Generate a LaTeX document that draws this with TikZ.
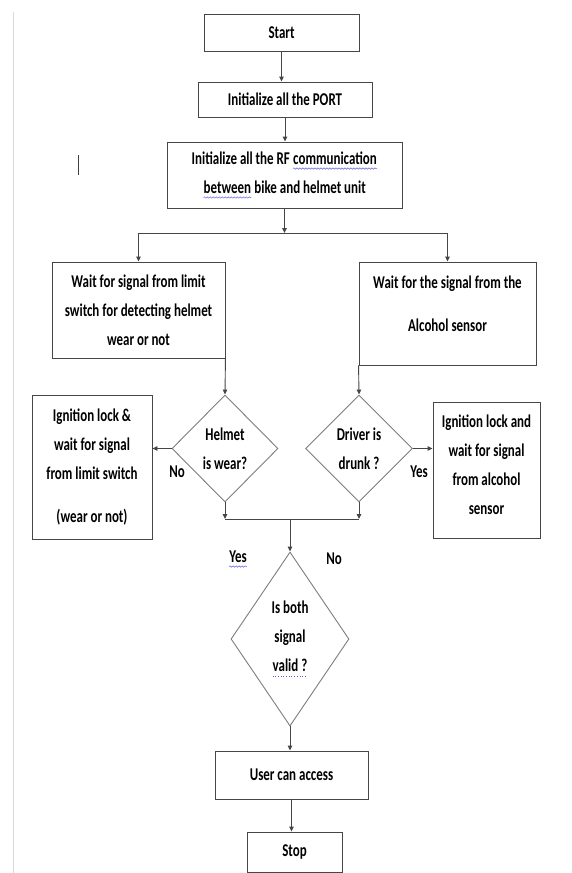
\documentclass[tikz,border=0pt]{standalone}
\usepackage{fontspec}
\setmainfont{Carlito}[FakeStretch=0.72]
\usetikzlibrary{positioning,arrows.meta,shapes.geometric,decorations.pathmorphing}
\definecolor{boxgray}{RGB}{70,70,70}
\definecolor{diagray}{RGB}{125,125,125}
\definecolor{spellblue}{RGB}{95,95,225}

\newcommand{\chartfont}{\bfseries\fontsize{18}{29}\selectfont}
\tikzset{
  box/.style={draw=boxgray, line width=0.9pt, align=center, inner sep=0pt, font=\chartfont},
  decision/.style={diamond, draw=diagray, line width=0.9pt, align=center, inner sep=0pt, font=\chartfont},
  flow/.style={draw=boxgray, line width=0.9pt, -{Triangle[length=5pt,width=4.5pt]}},
  lbl/.style={inner sep=0pt, font=\chartfont},
  spell/.style={draw=spellblue, line width=0.5pt, decorate, decoration={snake, amplitude=0.7pt, segment length=3pt}}
}
% spell-check marks under words
\newcommand{\wavy}[1]{\tikz[baseline=(w.base)]{\node[shape=rectangle, draw=none, fill=none, inner sep=0pt, minimum width=0pt, minimum height=0pt] (w) {#1};
  \draw[spell] ([yshift=-4pt]w.south west) -- ([yshift=-4pt]w.south east);}}
\newcommand{\dotty}[1]{\tikz[baseline=(w.base)]{\node[shape=rectangle, draw=none, fill=none, inner sep=0pt, minimum width=0pt, minimum height=0pt] (w) {#1};
  \draw[spellblue, line width=0.7pt, dotted] ([yshift=-4pt]w.south west) -- ([yshift=-4pt]w.south east);}}

\begin{document}
\begin{tikzpicture}[x=1pt,y=-1pt]
\useasboundingbox (0,0) rectangle (572,873);
% page edge and cursor
\draw[gray!30, line width=1pt] (13,12) -- (13,873);
\draw[black!75, line width=0.8pt] (78,155) -- (78,175);

% Boxes
\node[box, minimum width=155pt, minimum height=37pt] (start) at (281.5,32.5) {Start};
\node[box, minimum width=174pt, minimum height=35pt] (port) at (285,99.5) {Initialize all the PORT};
\node[box, minimum width=235pt, minimum height=66pt] (rf) at (284.5,175) {Initialize all the RF \wavy{communication}\\\wavy{between} bike and helmet unit};
\node[box, minimum width=173pt, minimum height=96pt] (waitH) at (138.5,310) {Wait for signal from limit\\switch for detecting helmet\\wear or not};
\node[box, minimum width=177pt, minimum height=103pt] (waitA) at (447.5,313.5) {Wait for the signal from the\\[14pt]Alcohol sensor\\[-10pt]\mbox{}};
\node[box, minimum width=120pt, minimum height=144pt] (lockH) at (92,467) {Ignition lock \&\\wait for signal\\from limit switch\\[14pt](wear or not)};
\node[box, minimum width=107pt, minimum height=136pt] (lockA) at (486.5,470) {Ignition lock and\\wait for signal\\from alcohol\\sensor\\[-19pt]\mbox{}};
\node[box, minimum width=153pt, minimum height=48pt] (access) at (291.5,775) {User can access};
\node[box, minimum width=95pt, minimum height=40pt] (stopbox) at (294.5,852) {Stop};

% Decisions
\node[decision, minimum width=106pt, minimum height=107pt] (helmet) at (225,448.5) {Helmet\\is wear?};
\node[decision, minimum width=107pt, minimum height=107pt] (drunk) at (359,448.5) {Driver is\\drunk ?};
\node[decision, minimum width=118pt, minimum height=174pt] (valid) at (290,639) {Is both\\signal\\\dotty{valid ?}};

% Labels
\node[lbl] (noH) at (177,472) {No};
\node[lbl] (yesA) at (419,472) {Yes};
\node[lbl] (yesV) at (238,559) {\wavy{Yes}};
\node[lbl] (noV) at (334,559) {No};

% Junction points
\coordinate (split) at (284.5,233);
\coordinate (mL) at (225,519);
\coordinate (mR) at (359,519);
\coordinate (mid) at (290,519);

% Connections
\draw[flow] (start.south) -- (start.south |- port.north);
\draw[flow] (port.south) -- (port.south |- rf.north);
\draw[flow] (rf.south) -- (split);
\draw[flow] (split) -| (waitH.north);
\draw[flow] (split) -| (waitA.north);
\draw[flow] (waitH.south east) -- (helmet.north);
\draw[flow] (waitA.south west) -- (drunk.north);
\draw[flow] (helmet.west) -- (helmet.west -| lockH.east);
\draw[flow] (drunk.east) -- (drunk.east -| lockA.west);
\draw[flow] (helmet.south) -- (mL);
\draw[flow] (drunk.south) -- (mR);
\draw[draw=boxgray, line width=0.9pt] (mL) -- (mR);
\draw[flow] (mid) -- (valid.north);
\draw[flow] (valid.south) -- (valid.south |- access.north);
\draw[flow] (access.south) -- (access.south |- stopbox.north);
\end{tikzpicture}
\end{document}
